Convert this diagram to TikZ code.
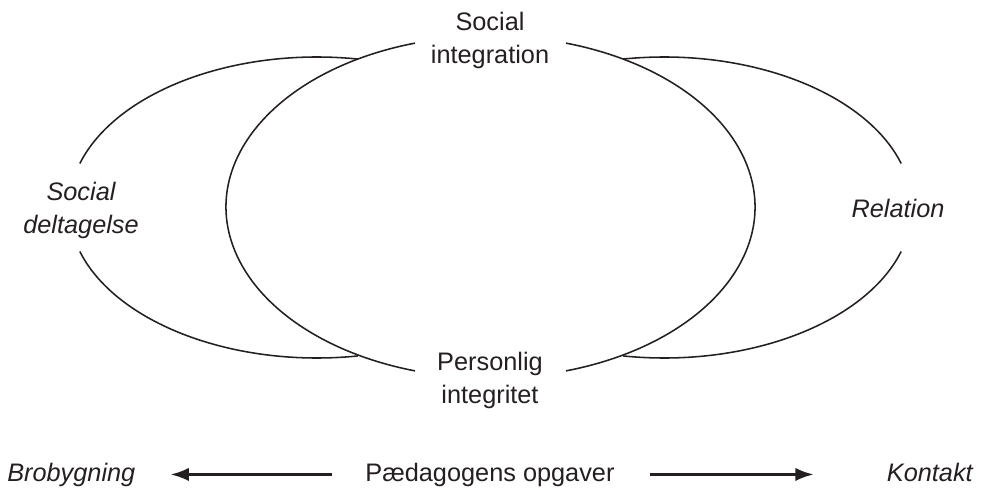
\documentclass[tikz,border=0pt]{standalone}
\usepackage{fontspec}
\setmainfont{Liberation Sans}
\usepackage{tikz}
\usetikzlibrary{arrows.meta,positioning}

\newcommand{\lblfont}{\fontsize{18}{23.5}\selectfont}
\definecolor{ink}{rgb}{0.14,0.12,0.13}

\tikzset{
  ring/.style={draw=ink, line width=1.1pt},
  lbl/.style={text=ink, inner sep=0pt, align=center, font=\lblfont},
  ital/.style={lbl, font=\lblfont\itshape},
  task/.style={draw=ink, line width=1.7pt, -{Latex[length=13pt,width=9.5pt]}}
}

\begin{document}
\begin{tikzpicture}[x=0.025cm,y=0.025cm]
%
\useasboundingbox (0,0) rectangle (985,488);
%
\coordinate (mid) at (490.5,281);
\coordinate (lft) at (317,280.5);
\coordinate (rgt) at (664,280.5);
%
% labels
\node[lbl] (soc) at (490,448) {Social\\integration};
\node[lbl] (per) at (490,108) {Personlig\\integritet};
\node[ital] (del) at (81,278) {Social\\deltagelse};
\node[ital] (rel) at (898,280) {Relation};
\node[lbl, anchor=base] (opg) at (490,7) {Pædagogens opgaver};
\node[ital, anchor=base west] (bro) at (7,7) {Brobygning};
\node[ital, anchor=base east] (kon) at (973,7) {Kontakt};
%
% middle ellipse
\draw[ring] (mid) ++(106.6:264.5 and 171) arc[start angle=106.6, end angle=253.4, x radius=264.5, y radius=171];
\draw[ring] (mid) ++(-73.4:264.5 and 171) arc[start angle=-73.4, end angle=73.4, x radius=264.5, y radius=171];
% left ellipse
\draw[ring] (lft) ++(80.5:248 and 150.5) arc[start angle=80.5, end angle=163, x radius=248, y radius=150.5];
\draw[ring] (lft) ++(197:248 and 150.5) arc[start angle=197, end angle=279.5, x radius=248, y radius=150.5];
% right ellipse
\draw[ring] (rgt) ++(99.5:248 and 150.5) arc[start angle=99.5, end angle=17, x radius=248, y radius=150.5];
\draw[ring] (rgt) ++(-17:248 and 150.5) arc[start angle=-17, end angle=-99.5, x radius=248, y radius=150.5];
%
% arrows
\draw[task, shorten <=0.825cm, shorten >=0.875cm] (opg.west) -- (opg.west -| bro.east);
\draw[task, shorten <=0.875cm, shorten >=1.825cm] (opg.east) -- (opg.east -| kon.west);
%
\end{tikzpicture}
\end{document}
